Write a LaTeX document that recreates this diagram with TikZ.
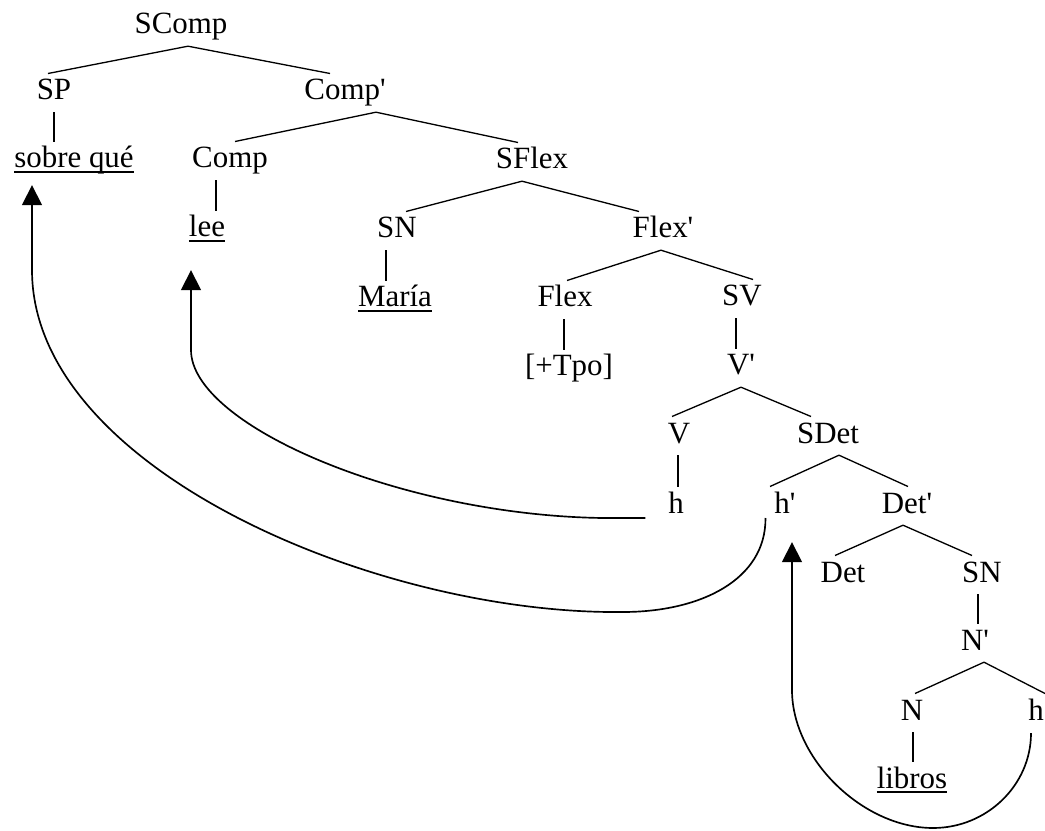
\documentclass[tikz,border=0pt]{standalone}
\usepackage{fontspec}
\setmainfont{Liberation Serif}
\usepackage{tikz}
\usetikzlibrary{arrows.meta,calc}
\newcommand\subr[1]{\setbox0\hbox{#1}\rlap{\rule[-0.16em]{\wd0}{0.05em}}\box0}
\newcommand\br{\textquotesingle}

\begin{document}
\begin{tikzpicture}[x=0.02cm,y=-0.02cm,>={Triangle[width=0.4cm,length=0.4cm]},font=\fontsize{17.6}{21}\selectfont]
        \tikzstyle{cat}=[anchor=base,inner sep=0.12cm,outer sep=0pt,text height=0.41cm,text depth=0.124cm]
        \tikzstyle{rama}=[line width=0.75pt]
        \tikzstyle{uni}=[line width=0.95pt]
        \tikzstyle{mov}=[->,line width=0.95pt]
        \useasboundingbox (0,0) rectangle (1045,831);
        \node[cat] (scomp) at (181,34) {SComp};
        \node[cat] (sp) at (54,100) {SP};
        \node[cat] (compbar) at (345,100) {Comp\br};
        \node[cat] (sobre) at (74,168) {\subr{sobre qué}};
        \node[cat] (comp) at (230,168) {Comp};
        \node[cat] (sflex) at (532,169) {SFlex};
        \node[cat] (lee) at (207,237) {\subr{lee}};
        \node[cat] (sn) at (397,238) {SN};
        \node[cat] (flexbar) at (663,238) {Flex\br};
        \node[cat] (maria) at (395,307) {\subr{María}};
        \node[cat] (flex) at (565,307) {Flex};
        \node[cat] (sv) at (742,306) {SV};
        \node[cat] (tpo) at (569,376) {[+Tpo]};
        \node[cat] (vbar) at (741,375) {V\br};
        \node[cat] (v) at (679,443) {V};
        \node[cat] (sdet) at (828,443) {SDet};
        \node[cat] (h) at (676,513) {h};
        \node[cat] (hbar) at (785,513) {h\br};
        \node[cat] (detbar) at (907,513) {Det\br};
        \node[cat] (det) at (843,582) {Det};
        \node[cat] (sn2) at (982,582) {SN};
        \node[cat] (nbar) at (975,650) {N\br};
        \node[cat] (n) at (912,720) {N};
        \node[cat] (hn) at (1036,720) {h};
        \node[cat] (libros) at (912,788) {\subr{libros}};
        % ramas
        \draw[rama] ($(scomp.south)+(7,0)$) -- ($(sp.north)+(-6,0)$);
        \draw[rama] ($(scomp.south)+(7,0)$) -- ($(compbar.north)+(-15,0)$);
        \draw[rama] ($(compbar.south)+(31,0)$) -- ($(comp.north)+(5,0)$);
        \draw[rama] ($(compbar.south)+(31,0)$) -- ($(sflex.north)+(-14,0)$);
        \draw[rama] ($(sflex.south)+(-10,0)$) -- ($(sn.north)+(9,0)$);
        \draw[rama] ($(sflex.south)+(-10,0)$) -- ($(flexbar.north)+(-24,0)$);
        \draw[rama] ($(flexbar.south)+(-2,0)$) -- ($(flex.north)+(2,0)$);
        \draw[rama] ($(flexbar.south)+(-2,0)$) -- ($(sv.north)+(11,0)$);
        \draw[rama] (vbar.south) -- ($(v.north)+(-7,0)$);
        \draw[rama] (vbar.south) -- ($(sdet.north)+(-17,0)$);
        \draw[rama] ($(sdet.south)+(11,0)$) -- ($(hbar.north)+(-15,0)$);
        \draw[rama] ($(sdet.south)+(11,0)$) -- ($(detbar.north)+(1,0)$);
        \draw[rama] ($(detbar.south)+(-4,0)$) -- ($(det.north)+(-8,0)$);
        \draw[rama] ($(detbar.south)+(-4,0)$) -- ($(sn2.north)+(-10,0)$);
        \draw[rama] ($(nbar.south)+(9,0)$) -- ($(n.north)+(3,0)$);
        \draw[rama] ($(nbar.south)+(9,0)$) -- ($(hn.north)+(9,0)$);
        \draw[uni] (sp.south) -- ($(sobre.north)+(-20,0)$);
        \draw[uni] ($(comp.south)+(-14,0)$) -- ($(lee.north)+(9,0)$);
        \draw[uni] ($(sn.south)+(-11,0)$) -- ($(maria.north)+(-9,0)$);
        \draw[uni] ($(flex.south)+(-1,0)$) -- ($(tpo.north)+(-5,0)$);
        \draw[uni] ($(sv.south)+(-6,0)$) -- ($(vbar.north)+(-5,0)$);
        \draw[uni] ($(v.south)+(-1,0)$) -- ($(h.north)+(2,0)$);
        \draw[uni] ($(sn2.south)+(-4,0)$) -- ($(nbar.north)+(3,0)$);
        \draw[uni] ($(n.south)+(1,0)$) -- ($(libros.north)+(1,0)$);
        % movimientos
        \draw[mov] ($(h.base west)+(-17,5)$) -- ++(-43,0) .. controls (400,515) and (191,425) .. (191,350) -- ($(lee.south)+(-16,21)$);
        \draw[mov] ($(hbar.base west)+(-3,5)$) .. controls (766,580) and (700,612) .. (623,612) .. controls (380,615) and (32,470) .. (32,270) -- ($(sp.south)+(-22,73)$);
        \draw[mov] ($(hn.south)+(-5,1)$) .. controls (1031,785) and (987,828) .. (933,828) .. controls (863,828) and (792,759) .. (792,690) -- ($(hbar.south)+(7,17)$);
\end{tikzpicture}
\end{document}
